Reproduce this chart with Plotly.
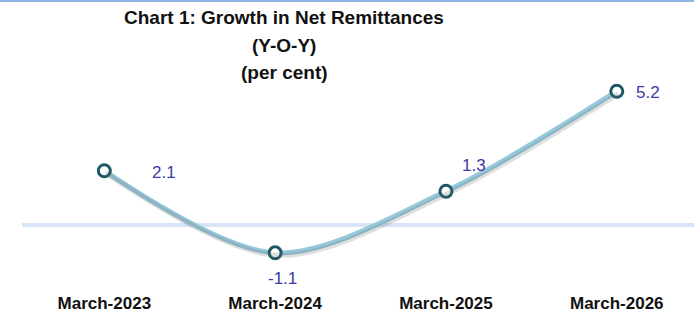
import plotly.graph_objects as go

# ---- data ----
categories = ["March-2023", "March-2024", "March-2025", "March-2026"]
growth = [2.1, -1.1, 1.3, 5.2]
title_lines = ["Chart 1: Growth in Net Remittances", "(Y-O-Y)", "(per cent)"]

# ---- layout geometry (pixels) ----
W, H = 694, 317
ML, MR, MT, MB = 22, 0, 40, 37
plot_w = W - ML - MR
plot_h = H - MT - MB
xr = [-0.482, 3.452]
yr = [-2.16, 7.197]

# shadow offset (pixels)
sdx, sdy = 1.5, 2.5
x_unit = plot_w / (xr[1] - xr[0])
y_unit = plot_h / (yr[1] - yr[0])
xr2 = [xr[0] - sdx / x_unit, xr[1] - sdx / x_unit]
yr2 = [yr[0] + sdy / y_unit, yr[1] + sdy / y_unit]

xs = list(range(len(categories)))

fig = go.Figure()

# shadow line
fig.add_trace(go.Scatter(
    x=xs, y=growth, mode="lines", xaxis="x2", yaxis="y2",
    line=dict(color="rgba(110,110,110,0.22)", width=5, shape="spline", smoothing=0.9),
    hoverinfo="skip", showlegend=False,
))
# main line
fig.add_trace(go.Scatter(
    x=xs, y=growth, mode="lines+markers",
    line=dict(color="#95C8DA", width=5, shape="spline", smoothing=0.9),
    marker=dict(size=12, color="white", line=dict(color="#1D5766", width=3)),
    showlegend=False,
))

def py(p):
    return (H - MB - p) / plot_h

def px(p):
    return (p - ML) / plot_w

annotations = []
# data labels
label_shifts = [(60, -2), (7, -26), (28, 26), (31, -1)]
for x, v, (dx, dy) in zip(xs, growth, label_shifts):
    annotations.append(dict(
        x=x, y=v, xref="x", yref="y", text=f"{v:.1f}", showarrow=False,
        xshift=dx, yshift=dy, xanchor="center", yanchor="middle",
        font=dict(family="Liberation Sans, Arial, sans-serif", size=17, color="#3B3BA6"),
    ))
# title lines
for txt, yc in zip(title_lines, [17.5, 45.5, 72.5]):
    annotations.append(dict(
        x=px(284), y=py(yc), xref="paper", yref="paper", text=f"<b>{txt}</b>",
        showarrow=False, xanchor="center", yanchor="middle",
        font=dict(family="Liberation Sans, Arial, sans-serif", size=19, color="#111111"),
    ))

fig.update_layout(
    width=W, height=H,
    margin=dict(l=ML, r=MR, t=MT, b=MB, pad=0),
    paper_bgcolor="white", plot_bgcolor="white",
    annotations=annotations,
    xaxis=dict(
        range=xr, tickmode="array", tickvals=xs,
        ticktext=[f"<b>{c}</b>" for c in categories],
        showgrid=False, zeroline=False, showline=False, ticks="",
        tickfont=dict(family="Liberation Sans, Arial, sans-serif", size=17, color="#111111"),
        ticklabelstandoff=11, fixedrange=True,
    ),
    yaxis=dict(
        range=yr, showgrid=False, showticklabels=False, ticks="",
        zeroline=True, zerolinecolor="#D6E4F5", zerolinewidth=4, showline=False,
    ),
    xaxis2=dict(range=xr2, overlaying="x", visible=False),
    yaxis2=dict(range=yr2, overlaying="y", visible=False),
    shapes=[dict(
        type="line", xref="paper", yref="paper",
        x0=-ML / plot_w, x1=1, y0=py(1), y1=py(1),
        line=dict(color="#8DB4E2", width=2),
    )],
)

fig.write_html(
    "out.html",
    config={"displayModeBar": False},
    post_script="document.body.style.margin='0';document.body.style.overflow='hidden';",
)
